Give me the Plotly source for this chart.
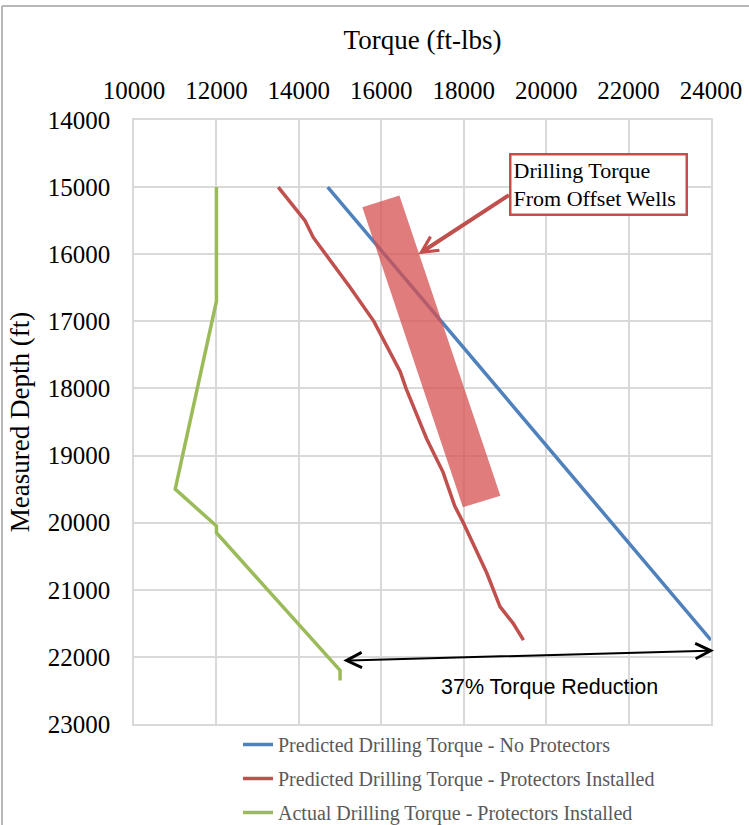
import plotly.graph_objects as go

# ---- data ----
blue_depth = [15000, 15500, 16000, 17000, 18000, 19000, 20000, 21000, 21750]
blue_torque = [14700, 15390, 16080, 17460, 18830, 20210, 21590, 22970, 24000]

red_depth = [15000, 15500, 15750, 16500, 17000, 17750, 18000, 18250, 18750,
             19250, 19750, 20000, 20750, 21250, 21500, 21750]
red_torque = [13500, 14150, 14350, 15250, 15820, 16460, 16600, 16770, 17100,
              17500, 17780, 17990, 18560, 18880, 19200, 19450]

green_depth = [15000, 16700, 19500, 20050, 20150, 22200, 22350]
green_torque = [12000, 12000, 11000, 12000, 12000, 15000, 15000]

band_torque = [15540, 16440, 18890, 17980]
band_depth = [15300, 15125, 19600, 19770]

series_names = ["Predicted Drilling Torque - No Protectors",
                "Predicted Drilling Torque - Protectors Installed",
                "Actual Drilling Torque - Protectors Installed"]
series_colors = ["#4F81BD", "#C0504D", "#9BBB59"]

x_range = [10000, 24000]
y_range = [23000, 14000]

callout_text = "Drilling Torque<br>From Offset Wells"
callout_pos = (21260, 14960)
callout_arrow_tip = (16900, 16000)
reduction_text = "37% Torque Reduction"
reduction_pos = (20075, 22443)
reduction_left = (15077, 22055)
reduction_right = (24109, 21906)

SERIF = "Liberation Serif"

fig = go.Figure()
for i, (xs, ys) in enumerate([(blue_torque, blue_depth), (red_torque, red_depth),
                               (green_torque, green_depth)]):
    fig.add_trace(go.Scatter(x=xs, y=ys, mode="lines", name=series_names[i],
                             legendgroup=str(i),
                             line=dict(color=series_colors[i], width=3.5)))

band_path = "M " + " L ".join(f"{t},{d}" for t, d in zip(band_torque, band_depth)) + " Z"
fig.add_shape(type="path", path=band_path, xref="x", yref="y",
              fillcolor="rgba(214,80,80,0.75)", line=dict(width=0), layer="above")

# outer chart border (left and top edges)
L, T_, PW, PH = 134, 120, 577, 604
def px_x(p):
    return (p - L) / PW
def px_y(p):
    return 1 - (p - T_) / PH
fig.add_shape(type="line", xref="paper", yref="paper", x0=px_x(2), x1=px_x(2),
              y0=px_y(830), y1=px_y(6), line=dict(color="#A0A0A0", width=1.5))
fig.add_shape(type="line", xref="paper", yref="paper", x0=px_x(2), x1=px_x(760),
              y0=px_y(6), y1=px_y(6), line=dict(color="#A0A0A0", width=1.5))

# callout box
fig.add_annotation(x=callout_pos[0], y=callout_pos[1], xref="x", yref="y",
                   text=callout_text, showarrow=False, align="left",
                   font=dict(family=SERIF, size=22, color="black"),
                   bgcolor="white", bordercolor="#C0504D", borderwidth=2.5,
                   borderpad=2, width=170)
# callout arrow
fig.add_annotation(x=callout_arrow_tip[0], y=callout_arrow_tip[1], xref="x", yref="y",
                   text="", showarrow=True, ax=92, ay=-60,
                   arrowhead=5, arrowwidth=4, arrowsize=0.8, arrowcolor="#C0504D")
# reduction double arrow
fig.add_annotation(x=reduction_left[0], y=reduction_left[1], xref="x", yref="y",
                   ax=reduction_right[0], ay=reduction_right[1], axref="x", ayref="y",
                   text="", showarrow=True, arrowside="end+start",
                   arrowhead=5, startarrowhead=5, arrowwidth=2, arrowsize=1.5,
                   startarrowsize=1.5, arrowcolor="black")
fig.add_annotation(x=reduction_pos[0], y=reduction_pos[1], xref="x", yref="y",
                   text=reduction_text, showarrow=False,
                   font=dict(family="Liberation Sans", size=21.5, color="black"))

grid = "#D9D9D9"
fig.update_layout(
    width=749, height=825,
    margin=dict(l=134, r=38, t=120, b=101, autoexpand=False),
    paper_bgcolor="white", plot_bgcolor="white",
    font=dict(family=SERIF, color="black"),
    xaxis=dict(side="top", range=x_range, dtick=2000, tickformat="d",
               showgrid=True, gridcolor=grid, automargin=False,
               gridwidth=1.5, showline=True, linecolor=grid, linewidth=1.5, mirror=True,
               zeroline=False, ticks="", ticklabelstandoff=9,
               tickfont=dict(family=SERIF, size=25, color="black"),
               title=dict(text="Torque (ft-lbs)", standoff=20,
                          font=dict(family=SERIF, size=27, color="black"))),
    yaxis=dict(range=y_range, dtick=1000, tickformat="d",
               showgrid=True, gridcolor=grid, automargin=False,
               gridwidth=1.5, showline=True, linecolor=grid, linewidth=1.5, mirror=True,
               zeroline=False, ticks="", ticklabelstandoff=17,
               tickfont=dict(family=SERIF, size=25, color="black"),
               title=dict(text="Measured Depth (ft)", standoff=10,
                          font=dict(family=SERIF, size=27, color="black"))),
    legend=dict(x=px_x(238), y=px_y(725), xanchor="left", yanchor="top",
                traceorder="grouped", tracegroupgap=5,
                font=dict(family=SERIF, size=20, color="#595959"),
                bgcolor="rgba(0,0,0,0)"),
    showlegend=True,
)

fig.write_html("out.html", config={"displayModeBar": False},
               post_script="document.body.style.margin='0px';")
